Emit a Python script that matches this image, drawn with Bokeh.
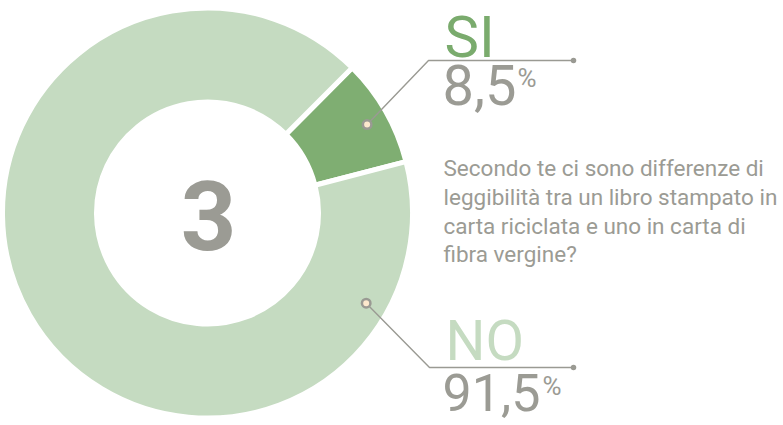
import math
from bokeh.plotting import figure
from bokeh.models import Range1d, ColumnDataSource
from bokeh.core.properties import value
from bokeh.embed import file_html
from bokeh.resources import INLINE

# ---------------- data ----------------
categories = ["SI", "NO"]
percent = [8.5, 91.5]
percent_labels = ["8,5", "91,5"]
question_number = "3"
question_lines = [
    "Secondo te ci sono differenze di",
    "leggibilità tra un libro stampato in",
    "carta riciclata e uno in carta di",
    "fibra vergine?",
]

# ---------------- style / layout ----------------
slice_colors = ["#7fae72", "#c5dbc1"]
label_colors = ["#7aab6d", "#c5dbc1"]
gray = "#9b9b94"
FONT = "Roboto"

W, H = 783, 425
CX, CY = 207, -212.5
R_OUT, R_IN = 202.5, 113.5
GAP = 5
START_DEG = 45.1          # boundary where the SI slice starts, going clockwise

p = figure(width=W, height=H, x_range=Range1d(0, W), y_range=Range1d(-H, 0),
           output_backend="svg", toolbar_location=None, min_border=0,
           x_axis_type=None, y_axis_type=None)
p.grid.visible = False
p.outline_line_color = None
p.background_fill_color = "white"
p.border_fill_color = "white"

# donut slices
starts, ends = [], []
a = math.radians(START_DEG)
for v in percent:
    starts.append(a)
    a = a - v / 100.0 * 2 * math.pi
    ends.append(a)
src = ColumnDataSource(dict(x=[CX] * len(percent), y=[CY] * len(percent),
                            start=starts, end=ends, color=slice_colors))
p.annular_wedge(x="x", y="y", inner_radius=R_IN - GAP / 2, outer_radius=R_OUT + GAP / 2,
                start_angle="start", end_angle="end", direction="clock",
                fill_color="color", line_color="white", line_width=GAP, source=src)

# leader lines (anchor dot angle, elbow, end) in picture pixels
dot_angles_deg = [29.0, -29.6]
dot_r = 182.5
elbows = [(428, 60), (429, 367)]
ends_pt = [(573, 60), (573, 367)]
for i in range(len(categories)):
    ang = math.radians(dot_angles_deg[i])
    dx, dy = CX + dot_r * math.cos(ang), CY + dot_r * math.sin(ang)
    ex, ey = elbows[i][0], -elbows[i][1]
    fx, fy = ends_pt[i][0], -ends_pt[i][1]
    p.line([dx, ex, fx], [dy, ey, fy], line_color="#9a9a93", line_width=1.4)
    p.scatter([fx], [fy], size=5.5, fill_color="#9a9a93", line_color=None)
    p.scatter([dx], [dy], size=8.5, fill_color="#fde8cd", line_color="#9a9a93", line_width=2.5)

# center number (y values are the text anchor positions, picture px from top)
p.text([CX + 1], [-215], text=[question_number], text_font=value(FONT),
       text_font_size=value("97px"), text_font_style="bold", text_color=gray,
       text_align="center", text_baseline="alphabetic")

# category labels and percents
cat_xy = [(444, 36), (445, 340)]
cat_size = ["58px", "56px"]
pct_xy = [(442, 84), (442, 392)]
pct_size = ["56px", "52px"]
sign_xy = [(517, 77), (542, 385)]
for i, c in enumerate(categories):
    p.text([cat_xy[i][0]], [-cat_xy[i][1]], text=[c], text_font=value(FONT),
           text_font_size=value(cat_size[i]), text_color=label_colors[i],
           text_align="left", text_baseline="alphabetic")
    p.text([pct_xy[i][0]], [-pct_xy[i][1]], text=[percent_labels[i]], text_font=value(FONT),
           text_font_size=value(pct_size[i]), text_color=gray,
           text_align="left", text_baseline="alphabetic")
    p.text([sign_xy[i][0]], [-sign_xy[i][1]], text=["%"], text_font=value(FONT),
           text_font_size=value("26px"), text_color=gray,
           text_align="left", text_baseline="alphabetic")

# question text
q_x = 443
q_base = [167, 196, 225, 253]
p.text([q_x] * len(question_lines), [-b for b in q_base], text=question_lines,
       text_font=value(FONT), text_font_size=value("22.5px"), text_color=gray,
       text_align="left", text_baseline="alphabetic")

open("out.html", "w").write(file_html(p, INLINE))
